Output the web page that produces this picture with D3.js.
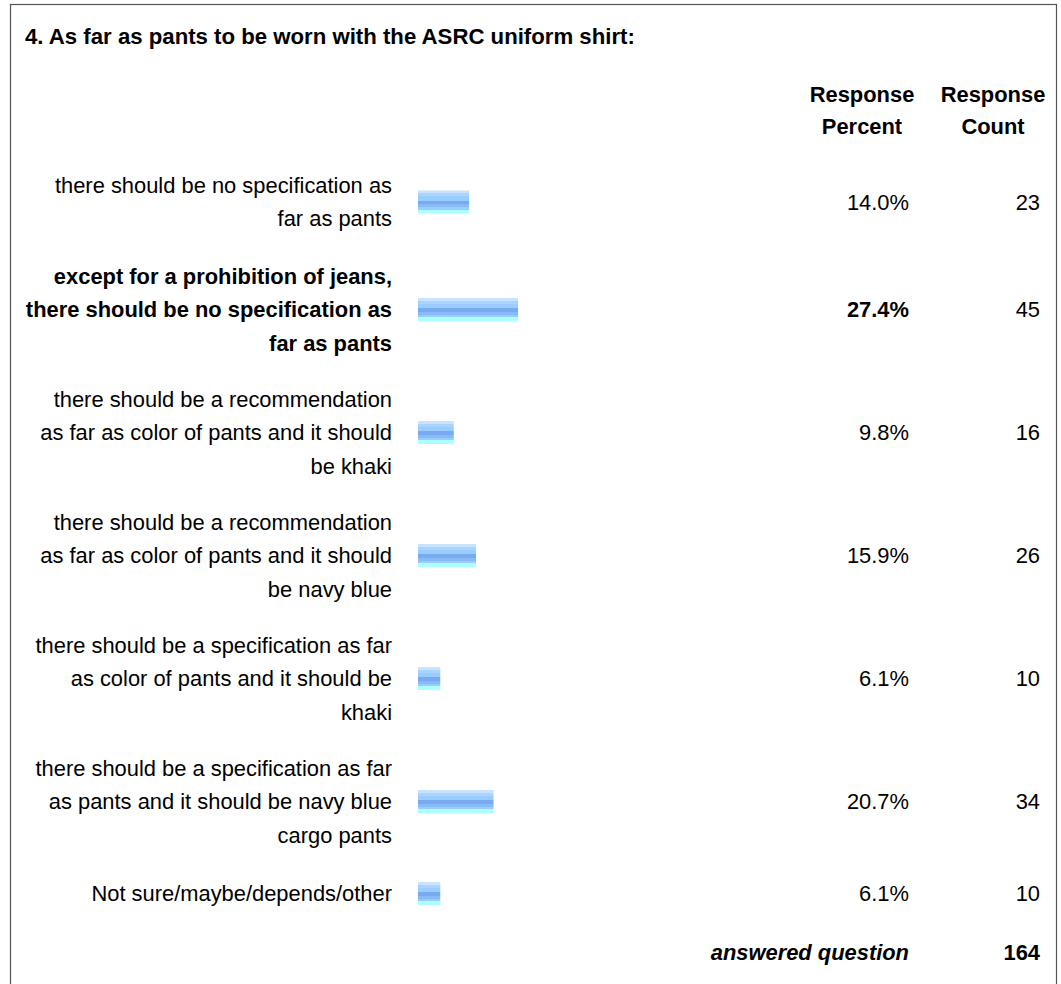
<!DOCTYPE html>
<html>
<head>
<meta charset="utf-8">
<script src="https://cdn.jsdelivr.net/npm/d3@7"></script>
<style>
body { margin: 0; background: #fff; }
svg { display: block; font-family: "Liberation Sans", Arial, sans-serif; }
</style>
</head>
<body>
<svg id="chart"></svg>
<script>
const title = "4. As far as pants to be worn with the ASRC uniform shirt:";
const answers = [
  ["there should be no specification as", "far as pants"],
  ["except for a prohibition of jeans,", "there should be no specification as", "far as pants"],
  ["there should be a recommendation", "as far as color of pants and it should", "be khaki"],
  ["there should be a recommendation", "as far as color of pants and it should", "be navy blue"],
  ["there should be a specification as far", "as color of pants and it should be", "khaki"],
  ["there should be a specification as far", "as pants and it should be navy blue", "cargo pants"],
  ["Not sure/maybe/depends/other"]
];
const percents = [14.0, 27.4, 9.8, 15.9, 6.1, 20.7, 6.1];
const counts = [23, 45, 16, 26, 10, 34, 10];
const highlighted = 1; // row with the largest share is shown in bold
const answeredTotal = 164;

const W = 1061, H = 984;
const fs = 21.9, lineH = 33.5;

const svg = d3.select("#chart").attr("width", W).attr("height", H);

// bar gradient
const grad = svg.append("defs").append("linearGradient")
  .attr("id", "barGrad").attr("x1", 0).attr("y1", 0).attr("x2", 0).attr("y2", 1);
[[0, "#c8e4fb"], [0.13, "#c8e4fb"], [0.13, "#a8d4ff"], [0.26, "#a8d4ff"], [0.26, "#99ccff"],
 [0.44, "#99ccff"], [0.44, "#77aaee"], [0.6, "#77aaee"], [0.6, "#88bbf6"], [0.72, "#88bbf6"],
 [0.72, "#99ccff"], [0.84, "#99ccff"], [0.84, "#aaffff"], [1, "#aaffff"]]
  .forEach(([o, c]) => grad.append("stop").attr("offset", o).attr("stop-color", c));

svg.append("rect")
  .attr("x", 10.5).attr("y", 4.5).attr("width", 1046).attr("height", H + 20)
  .attr("fill", "none").attr("stroke", "#555").attr("stroke-width", 1.2);

svg.append("text")
  .attr("x", 25).attr("y", 44)
  .attr("font-size", 22.2).attr("font-weight", "bold")
  .text(title);

// header
const pctX = 909, cntX = 1040;
[["Response", "Percent", 862], ["Response", "Count", 993]].forEach(([a, b, cx]) => {
  svg.append("text").attr("x", cx).attr("y", 102).attr("text-anchor", "middle")
    .attr("font-size", fs).attr("font-weight", "bold").text(a);
  svg.append("text").attr("x", cx).attr("y", 134).attr("text-anchor", "middle")
    .attr("font-size", fs).attr("font-weight", "bold").text(b);
});

// row centres from the number of label lines
const rowH = n => n * 31 + 30;
const centers = [];
let c = 202;
answers.forEach((lines, i) => {
  if (i > 0) c += (rowH(answers[i - 1].length) + rowH(lines.length)) / 2;
  centers.push(c);
});

const x = d3.scaleLinear().domain([0, 100]).range([418, 418 + 365]);
const barH = 23;

const rows = svg.selectAll(".row")
  .data(answers.map((lines, i) => ({ lines, pct: percents[i], cnt: counts[i], cy: centers[i], bold: i === highlighted })))
  .join("g").attr("class", "row");

rows.each(function(d) {
  const g = d3.select(this);
  const n = d.lines.length;
  d.lines.forEach((t, k) => {
    g.append("text")
      .attr("x", 392)
      .attr("y", d.cy + (k - (n - 1) / 2) * lineH + fs * 0.35)
      .attr("text-anchor", "end")
      .attr("font-size", fs)
      .attr("font-weight", d.bold ? "bold" : "normal")
      .text(t);
  });
  g.append("rect")
    .attr("x", x(0)).attr("y", d.cy - barH / 2)
    .attr("width", x(d.pct) - x(0)).attr("height", barH)
    .attr("fill", "url(#barGrad)");
  g.append("text")
    .attr("x", pctX).attr("y", d.cy + fs * 0.35)
    .attr("text-anchor", "end").attr("font-size", fs)
    .attr("font-weight", d.bold ? "bold" : "normal")
    .text(d.pct.toFixed(1) + "%");
  g.append("text")
    .attr("x", cntX).attr("y", d.cy + fs * 0.35)
    .attr("text-anchor", "end").attr("font-size", fs)
    .text(d.cnt);
});

svg.append("text")
  .attr("x", pctX).attr("y", 952 + fs * 0.35)
  .attr("text-anchor", "end").attr("font-size", fs)
  .attr("font-weight", "bold").attr("font-style", "italic")
  .text("answered question");
svg.append("text")
  .attr("x", cntX).attr("y", 952 + fs * 0.35)
  .attr("text-anchor", "end").attr("font-size", fs)
  .attr("font-weight", "bold")
  .text(answeredTotal);
</script>
</body>
</html>
